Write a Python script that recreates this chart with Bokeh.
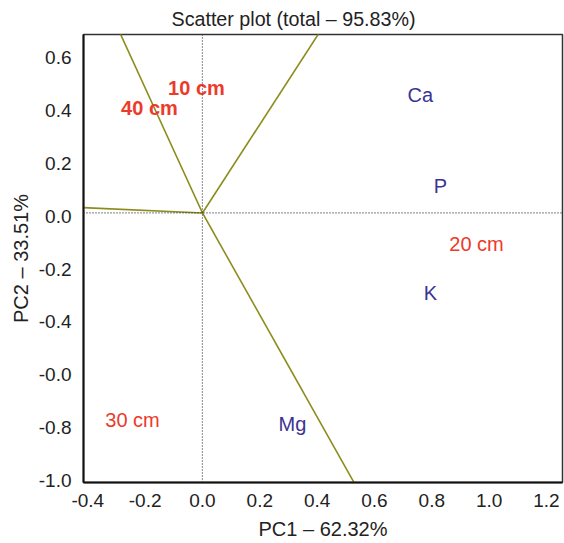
from bokeh.plotting import figure
from bokeh.models import Span, FixedTicker, ColumnDataSource, Range1d
from bokeh.core.properties import value
from bokeh.embed import file_html
from bokeh.resources import INLINE

# --- data -------------------------------------------------------------
origin_x = 0.0
origin_y = 0.013
vec_end_x = [-0.29, 0.41, -0.43, 0.54]
vec_end_y = [0.70, 0.70, 0.034, -1.03]

var_names = ["Ca", "P", "K", "Mg"]
var_x = [0.760, 0.830, 0.795, 0.314]
var_y = [0.460, 0.116, -0.289, -0.785]

depth_names = ["20 cm", "30 cm"]
depth_x = [0.956, -0.244]
depth_y = [-0.104, -0.773]
depth_bold_names = ["10 cm", "40 cm"]
depth_bold_x = [-0.021, -0.185]
depth_bold_y = [0.486, 0.409]

x_ticks = [-0.4, -0.2, 0.0, 0.2, 0.4, 0.6, 0.8, 1.0, 1.2]
x_tick_labels = ["-0.4", "-0.2", "0.0", "0.2", "0.4", "0.6", "0.8", "1.0", "1.2"]
y_ticks = [-1.0, -0.8, -0.6, -0.4, -0.2, 0.0, 0.2, 0.4, 0.6]
y_tick_labels = ["-1.0", "-0.8", "-0.0", "-0.4", "-0.2", "0.0", "0.2", "0.4", "0.6"]

FONT = "Liberation Sans"
RED = "#EC3A2B"
BLUE = "#3B3393"
OLIVE = "#8C8C1C"

p = figure(width=564, height=543, output_backend="svg", toolbar_location=None,
           x_range=Range1d(-0.415, 1.256), y_range=Range1d(-1.008, 0.689),
           title="Scatter plot (total \u2013 95.83%)",
           min_border_left=83, min_border_right=2, min_border_top=26, min_border_bottom=61)

p.title.text_font = FONT
p.title.text_font_size = "19.7px"
p.title.text_font_style = "normal"
p.title.align = "left"
p.title.offset = 88
p.title.text_color = "#222222"

p.grid.visible = False
p.outline_line_color = "#333333"
p.outline_line_width = 1.5
p.background_fill_color = "white"
p.border_fill_color = "white"

for ax in (p.xaxis[0], p.yaxis[0]):
    ax.axis_line_color = "#111111"
    ax.axis_line_width = 2
    ax.major_tick_line_color = None
    ax.minor_tick_line_color = None
    ax.major_label_text_font = FONT
    ax.major_label_text_font_size = "19px"
    ax.major_label_text_color = "#222222"
    ax.axis_label_text_font = FONT
    ax.axis_label_text_font_size = "20px"
    ax.axis_label_text_font_style = "normal"
    ax.axis_label_text_color = "#222222"

p.xaxis.ticker = FixedTicker(ticks=x_ticks)
p.xaxis.major_label_overrides = {t: l for t, l in zip(x_ticks, x_tick_labels)}
p.yaxis.ticker = FixedTicker(ticks=y_ticks)
p.yaxis.major_label_overrides = {t: l for t, l in zip(y_ticks, y_tick_labels)}
p.xaxis.axis_label = "PC1 \u2013 62.32%"
p.yaxis.axis_label = "PC2 \u2013 33.51%"
p.xaxis.major_label_standoff = 5
p.yaxis.major_label_standoff = 6
p.xaxis.axis_label_standoff = 8
p.yaxis.axis_label_standoff = 4

p.add_layout(Span(location=origin_x, dimension="height", line_color="#333333",
                  line_dash="1 2", line_width=1.2))
p.add_layout(Span(location=origin_y, dimension="width", line_color="#333333",
                  line_dash="1 2", line_width=1.2))

n = len(vec_end_x)
p.segment(x0=[origin_x] * n, y0=[origin_y] * n, x1=vec_end_x, y1=vec_end_y,
          line_color=OLIVE, line_width=1.6)

src_var = ColumnDataSource(dict(x=var_x, y=var_y, t=var_names))
p.text(x="x", y="y", text="t", source=src_var, text_color=BLUE,
       text_font=value(FONT), text_font_size="20px",
       text_align="center", text_baseline="middle")

src_d = ColumnDataSource(dict(x=depth_x, y=depth_y, t=depth_names))
p.text(x="x", y="y", text="t", source=src_d, text_color=RED,
       text_font=value(FONT), text_font_size="20px",
       text_align="center", text_baseline="middle")

src_db = ColumnDataSource(dict(x=depth_bold_x, y=depth_bold_y, t=depth_bold_names))
p.text(x="x", y="y", text="t", source=src_db, text_color=RED,
       text_font=value(FONT), text_font_size="20px", text_font_style="bold",
       text_align="center", text_baseline="middle")

open("out.html", "w").write(file_html(p, INLINE))
